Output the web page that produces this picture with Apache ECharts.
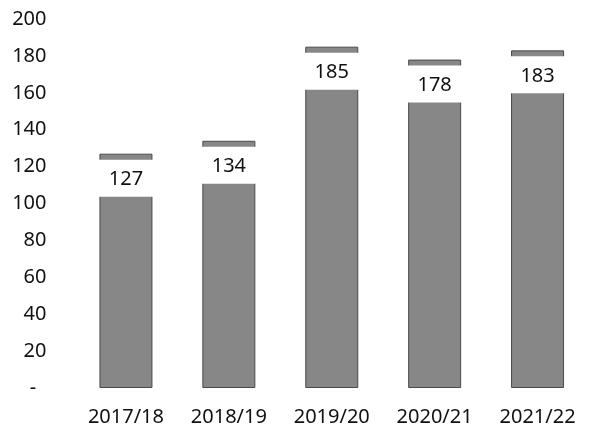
<!DOCTYPE html>
<html>
<head>
<meta charset="utf-8">
<script src="https://cdn.jsdelivr.net/npm/echarts@6/dist/echarts.min.js"></script>
<style>
html,body{margin:0;padding:0;background:#fff;}
#chart{width:589px;height:433px;}
</style>
</head>
<body>
<div id="chart"></div>
<script>
const categories = ['2017/18', '2018/19', '2019/20', '2020/21', '2021/22'];
const values = [127, 134, 185, 178, 183];
const yTicks = [0, 20, 40, 60, 80, 100, 120, 140, 160, 180, 200];

const chart = echarts.init(document.getElementById('chart'));
chart.setOption({
  backgroundColor: '#ffffff',
  animation: false,
  grid: { left: 74.5, right: -10.5, top: 19, bottom: 45, containLabel: false },
  xAxis: {
    type: 'category',
    data: categories,
    axisLine: { show: false },
    axisTick: { show: false },
    axisLabel: { color: '#111111', fontSize: 20, fontFamily: 'Noto Sans', margin: 19 }
  },
  yAxis: {
    type: 'value',
    min: 0, max: 200, interval: 20,
    splitLine: { show: false },
    axisLine: { show: false },
    axisTick: { show: false },
    axisLabel: {
      color: '#111111', fontSize: 20, fontFamily: 'Noto Sans', margin: 28,
      formatter: function (v) { return yTicks.indexOf(v) === 0 ? '-  ' : String(v); }
    }
  },
  series: [{
    type: 'bar',
    data: values,
    barWidth: 53,
    itemStyle: { color: '#878787', borderColor: '#4a4a4a', borderWidth: 1 },
    label: {
      show: true,
      position: 'insideTop',
      distance: 6,
      width: 57,
      height: 37,
      lineHeight: 40,
      align: 'center',
      backgroundColor: '#ffffff',
      color: '#111111',
      fontSize: 20,
      fontFamily: 'Noto Sans'
    }
  }]
});
</script>
</body>
</html>
